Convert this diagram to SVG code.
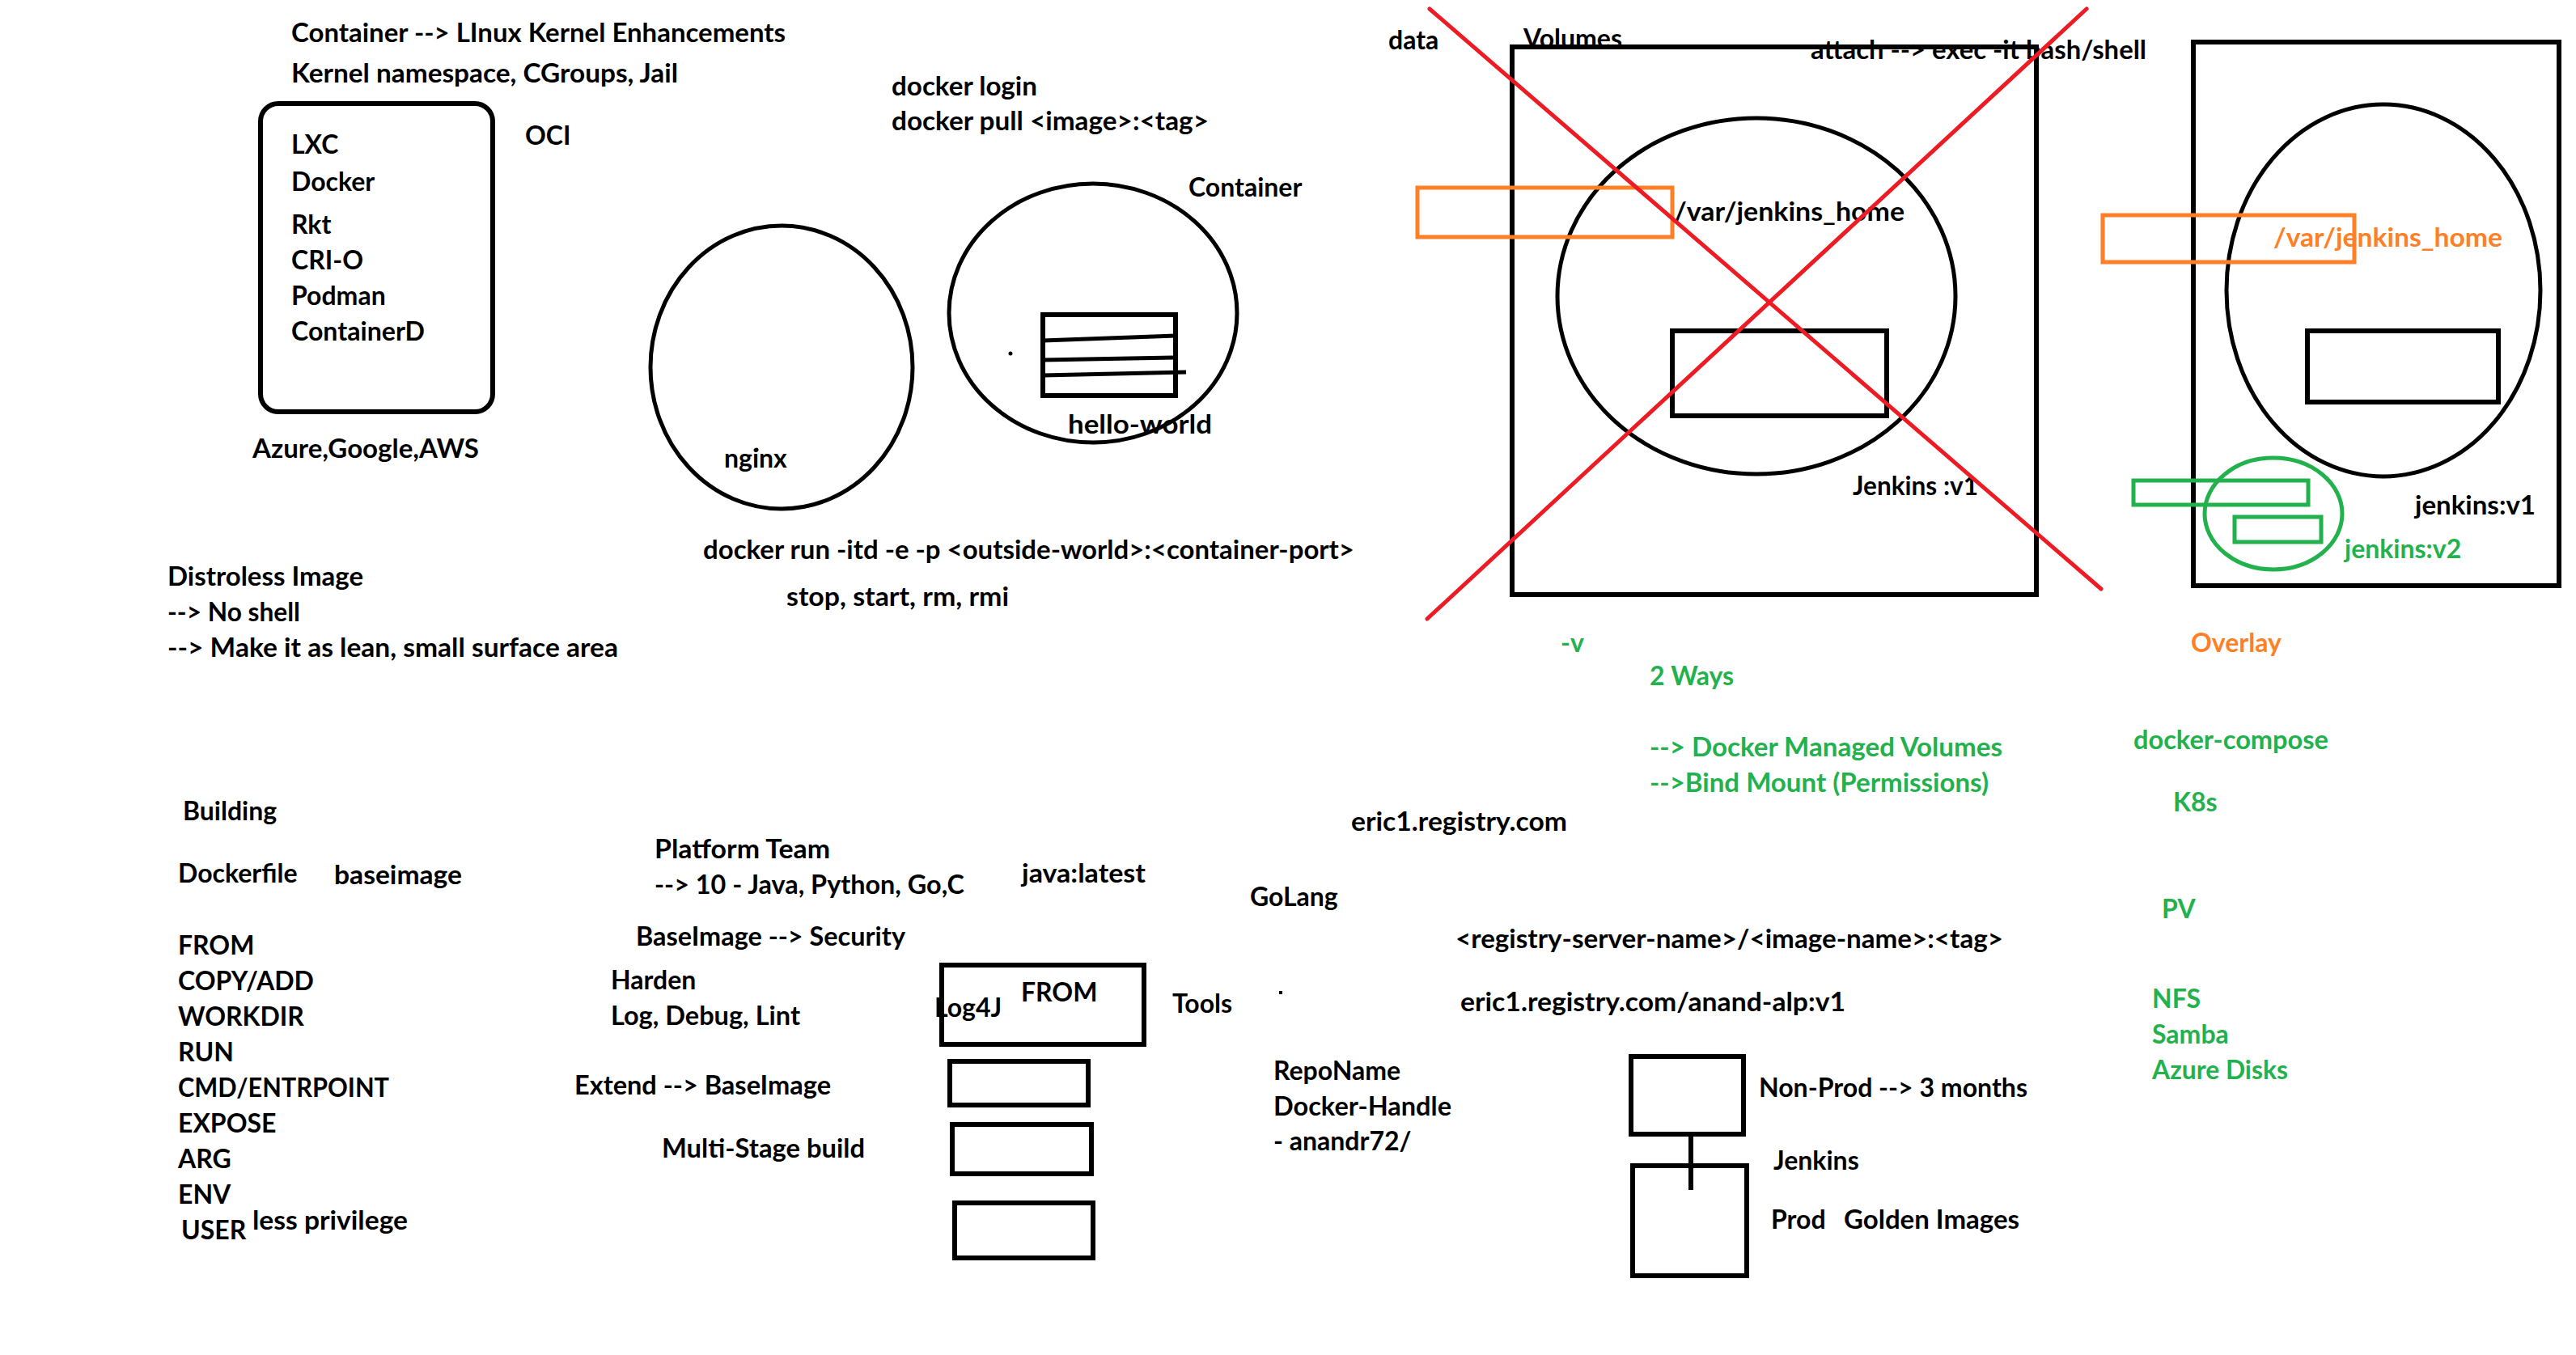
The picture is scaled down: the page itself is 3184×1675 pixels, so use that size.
<svg xmlns="http://www.w3.org/2000/svg" width="3184" height="1675" viewBox="0 0 3184 1675">
<style>
text{font-family:Lato,"Open Sans","Liberation Sans",sans-serif;font-weight:bold;font-size:32px;fill:#000}
.g{fill:#22b14c}
.o{fill:#ff7f27}
.blk{fill:none;stroke:#000;stroke-width:6}
.thin{fill:none;stroke:#000;stroke-width:5}
.org{fill:none;stroke:#ff7f27;stroke-width:5}
.grn{fill:none;stroke:#22b14c;stroke-width:5}
.red{fill:none;stroke:#ed1c24;stroke-width:5;stroke-linecap:round}
</style>
<rect width="3184" height="1675" fill="#fff"/>

<g id="intro">
<text x="360" y="52" textLength="611" lengthAdjust="spacingAndGlyphs">Container --&gt; LInux Kernel Enhancements</text>
<text x="360" y="102" textLength="478" lengthAdjust="spacingAndGlyphs">Kernel namespace, CGroups, Jail</text>
</g>

<g id="runtimes">
<rect class="blk" x="322" y="128" width="287" height="381" rx="22"/>
<text x="360" y="190">LXC</text>
<text x="360" y="236">Docker</text>
<text x="360" y="289">Rkt</text>
<text x="360" y="333">CRI-O</text>
<text x="360" y="377">Podman</text>
<text x="360" y="421" textLength="165" lengthAdjust="spacingAndGlyphs">ContainerD</text>
</g>
<text id="oci" x="649" y="179">OCI</text>
<text id="clouds" x="312" y="566" textLength="280" lengthAdjust="spacingAndGlyphs">Azure,Google,AWS</text>

<g id="docker-cmds">
<text x="1102" y="118" textLength="180" lengthAdjust="spacingAndGlyphs">docker login</text>
<text x="1102" y="161" textLength="392" lengthAdjust="spacingAndGlyphs">docker pull &lt;image&gt;:&lt;tag&gt;</text>
</g>

<g id="nginx">
<ellipse class="thin" cx="966" cy="454" rx="162" ry="175"/>
<circle cx="935" cy="556" r="2.5" fill="#000"/>
<text x="895" y="578">nginx</text>
</g>

<g id="hello-world">
<ellipse class="thin" cx="1351" cy="387" rx="178" ry="160"/>
<rect class="blk" x="1289" y="389" width="164" height="100"/>
<line class="thin" x1="1289" y1="421" x2="1453" y2="415"/>
<line class="thin" x1="1289" y1="445" x2="1451" y2="442"/>
<line class="thin" x1="1289" y1="464" x2="1466" y2="460"/>
<circle cx="1249" cy="437" r="2.5" fill="#000"/>
<text x="1469" y="243">Container</text>
<text x="1320" y="536" textLength="178" lengthAdjust="spacingAndGlyphs">hello-world</text>
</g>

<g id="run-cmds">
<text x="869" y="691" textLength="805" lengthAdjust="spacingAndGlyphs">docker run -itd -e -p &lt;outside-world&gt;:&lt;container-port&gt;</text>
<text x="972" y="749" textLength="275" lengthAdjust="spacingAndGlyphs">stop, start, rm, rmi</text>
</g>

<g id="distroless">
<text x="207" y="724" textLength="242" lengthAdjust="spacingAndGlyphs">Distroless Image</text>
<text x="207" y="768" textLength="164" lengthAdjust="spacingAndGlyphs">--&gt; No shell</text>
<text x="207" y="812" textLength="557" lengthAdjust="spacingAndGlyphs">--&gt; Make it as lean, small surface area</text>
</g>

<g id="building">
<text x="226" y="1014">Building</text>
<text x="220" y="1091">Dockerfile</text>
<text x="413" y="1093" textLength="158" lengthAdjust="spacingAndGlyphs">baseimage</text>
<text x="220" y="1180">FROM</text>
<text x="220" y="1224">COPY/ADD</text>
<text x="220" y="1268">WORKDIR</text>
<text x="220" y="1312">RUN</text>
<text x="220" y="1356" textLength="261" lengthAdjust="spacingAndGlyphs">CMD/ENTRPOINT</text>
<text x="220" y="1400">EXPOSE</text>
<text x="220" y="1444">ARG</text>
<text x="220" y="1488">ENV</text>
<text x="224" y="1532">USER</text>
<text x="312" y="1520" textLength="192" lengthAdjust="spacingAndGlyphs">less privilege</text>
</g>

<g id="platform">
<text x="809" y="1061" textLength="217" lengthAdjust="spacingAndGlyphs">Platform Team</text>
<text x="809" y="1105" textLength="383" lengthAdjust="spacingAndGlyphs">--&gt; 10 - Java, Python, Go,C</text>
<text x="786" y="1169" textLength="333" lengthAdjust="spacingAndGlyphs">BaseImage --&gt; Security</text>
<text x="755" y="1223">Harden</text>
<text x="755" y="1267" textLength="234" lengthAdjust="spacingAndGlyphs">Log, Debug, Lint</text>
<text x="710" y="1353" textLength="317" lengthAdjust="spacingAndGlyphs">Extend --&gt; BaseImage</text>
<text x="818" y="1431" textLength="251" lengthAdjust="spacingAndGlyphs">Multi-Stage build</text>
<text x="1263" y="1091" textLength="153" lengthAdjust="spacingAndGlyphs">java:latest</text>
<text x="1545" y="1120">GoLang</text>
</g>

<g id="layers">
<rect class="blk" x="1164" y="1193" width="250" height="98"/>
<text x="1262" y="1238">FROM</text>
<text x="1155" y="1257">Log4J</text>
<rect class="blk" x="1174" y="1312" width="171" height="54"/>
<rect class="blk" x="1177" y="1390" width="172" height="61"/>
<rect class="blk" x="1180" y="1487" width="171" height="68"/>
<text x="1449" y="1252">Tools</text>
<rect x="1581" y="1225" width="4" height="4" fill="#000"/>
</g>

<g id="repo">
<text x="1574" y="1335">RepoName</text>
<text x="1574" y="1379" textLength="220" lengthAdjust="spacingAndGlyphs">Docker-Handle</text>
<text x="1574" y="1422">- anandr72/</text>
</g>

<g id="registry">
<text x="1670" y="1027" textLength="267" lengthAdjust="spacingAndGlyphs">eric1.registry.com</text>
<text x="1799" y="1172" textLength="677" lengthAdjust="spacingAndGlyphs">&lt;registry-server-name&gt;/&lt;image-name&gt;:&lt;tag&gt;</text>
<text x="1805" y="1250" textLength="476" lengthAdjust="spacingAndGlyphs">eric1.registry.com/anand-alp:v1</text>
</g>

<g id="nonprod">
<rect class="blk" x="2016" y="1306" width="139" height="96"/>
<text x="2174" y="1356" textLength="332" lengthAdjust="spacingAndGlyphs">Non-Prod --&gt; 3 months</text>
</g>
<g id="prod">
<rect class="blk" x="2018" y="1441" width="141" height="136"/>
<text x="2192" y="1446">Jenkins</text>
<text x="2189" y="1519">Prod</text>
<text x="2279" y="1519" textLength="217" lengthAdjust="spacingAndGlyphs">Golden Images</text>
</g>

<g id="volumes">
<rect class="blk" x="1869" y="58" width="648" height="677"/>
<ellipse class="thin" cx="2171" cy="366" rx="246" ry="220"/>
<rect class="blk" x="2067" y="409" width="265" height="105"/>
<rect class="org" x="1752" y="232" width="315" height="61"/>
<text x="1716" y="61">data</text>
<text x="1883" y="59">Volumes</text>
<text x="2238" y="73" textLength="415" lengthAdjust="spacingAndGlyphs">attach --&gt; exec -it bash/shell</text>
<text x="2069" y="273" textLength="285" lengthAdjust="spacingAndGlyphs">/var/jenkins_home</text>
<text x="2290" y="612" textLength="155" lengthAdjust="spacingAndGlyphs">Jenkins :v1</text>
</g>

<g id="overlay">
<rect class="blk" x="2711" y="52" width="452" height="672"/>
<ellipse class="thin" cx="2946" cy="359" rx="194" ry="230"/>
<rect class="blk" x="2852" y="409" width="236" height="88"/>
<rect class="org" x="2599" y="266" width="311" height="58"/>
<text class="o" x="2810" y="305" textLength="283" lengthAdjust="spacingAndGlyphs">/var/jenkins_home</text>
<ellipse class="grn" cx="2810" cy="635" rx="85" ry="69"/>
<rect class="grn" x="2637" y="594" width="216" height="30"/>
<rect class="grn" x="2762" y="639" width="107" height="31"/>
<text x="2985" y="636" textLength="149" lengthAdjust="spacingAndGlyphs">jenkins:v1</text>
<text class="g" x="2898" y="690">jenkins:v2</text>
</g>

<g id="notes">
<text class="g" x="1929" y="806">-v</text>
<text class="g" x="2039" y="847">2 Ways</text>
<text class="g" x="2039" y="935" textLength="436" lengthAdjust="spacingAndGlyphs">--&gt; Docker Managed Volumes</text>
<text class="g" x="2039" y="979" textLength="419" lengthAdjust="spacingAndGlyphs">--&gt;Bind Mount (Permissions)</text>
<text class="o" x="2708" y="806">Overlay</text>
<text class="g" x="2637" y="926" textLength="241" lengthAdjust="spacingAndGlyphs">docker-compose</text>
<text class="g" x="2686" y="1003">K8s</text>
<text class="g" x="2672" y="1135">PV</text>
<text class="g" x="2660" y="1246">NFS</text>
<text class="g" x="2660" y="1290">Samba</text>
<text class="g" x="2660" y="1334" textLength="168" lengthAdjust="spacingAndGlyphs">Azure Disks</text>
</g>

<g id="connectors">
<line class="blk" x1="2090" y1="1402" x2="2090" y2="1471"/>
<line class="red" x1="1767" y1="11" x2="2597" y2="728"/>
<line class="red" x1="1764" y1="765" x2="2579" y2="11"/>
</g>
</svg>
